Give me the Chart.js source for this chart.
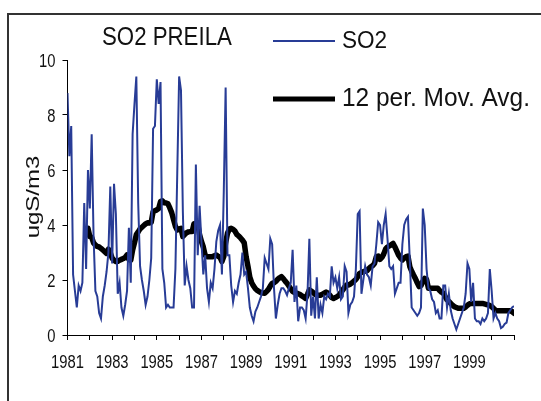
<!DOCTYPE html>
<html>
<head>
<meta charset="utf-8">
<script src="https://cdn.jsdelivr.net/npm/chart.js@4.4.1/dist/chart.umd.min.js"></script>
<style>
  html, body { margin: 0; padding: 0; background: #fff; }
  #frame { position: absolute; left: 7px; top: 13px; width: 600px; height: 500px; border: 2px solid #333; }
  #wrap { position: absolute; left: 0; top: 0; width: 541px; height: 401px; }
</style>
</head>
<body>
<div id="frame"></div>
<div id="wrap"><canvas id="so2Chart" width="541" height="401"></canvas></div>
<script>
// monthly SO2 at Preila, ugS/m3, Jan 1981 .. Jan 2001 (one row per year)
const so2 = [
  8.8, 6.5, 7.6, 2.2, 1.6, 1.0, 1.8, 1.6, 1.9, 4.8, 2.4, 6.0,   // 1981
  4.6, 7.3, 3.6, 1.6, 1.4, 0.8, 0.6, 1.4, 1.8, 2.3, 3.0, 5.4,   // 1982
  2.6, 5.5, 4.4, 1.5, 1.9, 1.0, 0.7, 1.1, 1.6, 3.9, 1.9, 7.3,   // 1983
  8.4, 9.4, 4.8, 2.5, 2.0, 1.6, 1.1, 1.4, 2.0, 2.8, 7.5, 7.6,   // 1984
  9.3, 8.4, 9.2, 2.4, 1.9, 1.0, 1.1, 1.0, 1.0, 1.0, 2.4, 5.9,   // 1985
  9.4, 8.9, 4.5, 1.8, 2.5, 2.0, 1.7, 1.0, 1.0, 6.2, 2.9, 4.7,   // 1986
  3.4, 2.2, 2.9, 1.7, 1.2, 1.9, 1.7, 2.4, 3.4, 3.8, 4.0, 2.2,   // 1987
  5.2, 9.0, 2.9, 2.9, 1.8, 1.2, 1.6, 1.5, 1.9, 2.2, 3.0, 2.2,   // 1988
  2.3, 1.7, 1.0, 0.7, 0.5, 0.85, 1.0, 1.2, 1.4, 1.7, 2.8, 2.6,  // 1989
  2.4, 3.5, 3.3, 1.7, 0.6, 1.1, 1.5, 1.7, 1.7, 1.6, 1.45, 1.7,  // 1990
  1.9, 3.1, 1.2, 1.8, 0.5, 1.0, 1.0, 0.9, 0.6, 1.5, 3.5, 0.7,   // 1991
  1.4, 0.6, 2.1, 0.6, 1.1, 0.8, 1.4, 1.3, 1.5, 1.4, 2.5, 1.9,   // 1992
  2.1, 1.7, 2.1, 1.3, 1.4, 2.5, 2.3, 0.8, 1.1, 1.2, 1.4, 2.4,   // 1993
  4.4, 4.5, 1.5, 2.0, 2.5, 2.2, 2.1, 1.8, 2.5, 2.6, 3.3, 4.1,   // 1994
  4.0, 3.3, 4.0, 4.4, 3.5, 2.5, 2.4, 2.5, 1.5, 1.7, 1.9, 1.9,   // 1995
  3.3, 4.0, 4.2, 4.3, 2.7, 1.0, 0.9, 0.8, 0.7, 0.8, 1.0, 4.6,   // 1996
  4.0, 2.4, 1.7, 1.6, 1.3, 1.2, 0.8, 0.9, 0.6, 0.6, 1.8, 1.8,   // 1997
  1.0, 1.5, 0.9, 0.6, 0.4, 0.2, 0.4, 0.6, 0.8, 1.0, 1.5, 2.6,   // 1998
  2.4, 1.2, 1.9, 0.6, 0.5, 0.5, 0.4, 0.6, 0.5, 0.6, 0.8, 2.4,   // 1999
  1.6, 0.6, 0.8, 0.6, 0.5, 0.25, 0.3, 0.4, 0.45, 0.8, 0.9, 1.0, // 2000
  1.05                                                          // 2001
];

// 12 per. moving average as drawn, starting with Dec 1981
const movAvgStart = 11;
const movAvg = [
  3.88,                                                                  // 1981
  3.58, 3.55, 3.35, 3.27, 3.22, 3.20, 3.15, 3.09, 3.03, 2.97, 3.12, 3.00, // 1982
  2.79, 2.72, 2.67, 2.68, 2.72, 2.75, 2.78, 2.82, 2.91, 2.75, 2.72, 3.09, // 1983
  3.35, 3.65, 3.75, 3.86, 3.92, 3.98, 4.04, 4.08, 4.07, 4.10, 4.48, 4.52, // 1984
  4.55, 4.60, 4.85, 4.88, 4.81, 4.80, 4.77, 4.62, 4.45, 4.20, 3.95, 3.82, // 1985
  3.86, 3.88, 3.58, 3.66, 3.72, 3.75, 3.76, 3.76, 4.05, 4.06, 4.04, 3.65, // 1986
  3.40, 3.20, 2.90, 2.85, 2.85, 2.85, 2.85, 2.88, 2.91, 2.86, 2.82, 2.67, // 1987
  2.85, 3.35, 3.70, 3.85, 3.88, 3.84, 3.78, 3.66, 3.60, 3.53, 3.45, 3.35, // 1988
  2.85, 2.50, 2.10, 1.90, 1.78, 1.68, 1.62, 1.58, 1.54, 1.53, 1.52, 1.58, // 1989
  1.66, 1.78, 1.88, 1.90, 1.95, 2.03, 2.08, 2.12, 2.05, 1.96, 1.88, 1.78, // 1990
  1.68, 1.58, 1.55, 1.52, 1.50, 1.47, 1.42, 1.38, 1.33, 1.48, 1.64, 1.60, // 1991
  1.55, 1.48, 1.45, 1.45, 1.45, 1.48, 1.52, 1.56, 1.52, 1.45, 1.36, 1.33, // 1992
  1.36, 1.40, 1.45, 1.55, 1.64, 1.74, 1.82, 1.82, 1.85, 1.90, 1.96, 2.02, // 1993
  2.12, 2.24, 2.27, 2.30, 2.32, 2.34, 2.42, 2.48, 2.52, 2.60, 2.85, 2.87, // 1994
  2.75, 2.82, 2.95, 3.13, 3.20, 3.24, 3.28, 3.33, 3.20, 3.05, 2.90, 2.80, // 1995
  2.73, 2.80, 2.85, 2.87, 2.48, 2.32, 2.18, 2.05, 1.90, 1.76, 1.80, 1.95, // 1996
  2.06, 2.02, 1.70, 1.70, 1.70, 1.70, 1.70, 1.70, 1.62, 1.56, 1.52, 1.40, // 1997
  1.28, 1.22, 1.15, 1.08, 1.03, 1.00, 0.97, 0.97, 0.97, 0.97, 1.02, 1.08, // 1998
  1.13, 1.15, 1.15, 1.15, 1.15, 1.15, 1.15, 1.15, 1.13, 1.11, 1.10, 1.07, // 1999
  1.03, 0.97, 0.90, 0.88, 0.88, 0.88, 0.88, 0.88, 0.88, 0.88, 0.88, 0.85, // 2000
  0.79                                                                   // 2001
];

const firstYear = 1981;
const yTicks = [0, 2, 4, 6, 8, 10];
const titleText = "SO2 PREILA";
const seriesName = "SO2";
const avgName = "12 per. Mov. Avg.";
const yTitle = "ugS/m3";

const blue = "#283c96";
const textFont = '"Liberation Sans", Arial, sans-serif';

// squeezed text, the original picture is narrower than its fonts
function drawText(ctx, txt, x, y, size, sx, align, rot) {
  ctx.save();
  ctx.translate(x, y);
  ctx.scale(sx, 1);
  if (rot) ctx.rotate(rot);
  ctx.font = size + "px " + textFont;
  ctx.fillStyle = "#111";
  ctx.textBaseline = "alphabetic";
  ctx.textAlign = align || "left";
  ctx.fillText(txt, 0, 0);
  ctx.restore();
}

const decorations = {
  id: "decorations",
  afterDraw(chart) {
    const ctx = chart.ctx;
    const xs = chart.scales.x, ys = chart.scales.y;

    // tick labels, placed with the chart's own scales
    for (let m = 0; m < 240; m += 24) {
      drawText(ctx, String(firstYear + m / 12), xs.getPixelForValue(m), 368, 18, 0.82, "center");
    }
    yTicks.forEach(v => {
      drawText(ctx, String(v), 55.5, ys.getPixelForValue(v) + 6.5, 18, 0.82, "right");
    });

    drawText(ctx, titleText, 102, 45, 25, 0.89);

    ctx.save();
    ctx.lineCap = "butt";
    ctx.strokeStyle = blue;
    ctx.lineWidth = 2;
    ctx.beginPath(); ctx.moveTo(273, 41); ctx.lineTo(335, 41); ctx.stroke();
    ctx.strokeStyle = "#000";
    ctx.lineWidth = 5;
    ctx.beginPath(); ctx.moveTo(273, 99); ctx.lineTo(335, 99); ctx.stroke();
    ctx.restore();

    drawText(ctx, seriesName, 342, 48, 24, 0.94);
    drawText(ctx, avgName, 342, 106, 26, 0.94);
    drawText(ctx, yTitle, 39, 197, 24, 0.8, "center", -Math.PI / 2);
  }
};

new Chart(document.getElementById("so2Chart"), {
  type: "line",
  data: {
    datasets: [
      {
        label: seriesName,
        data: so2.map((v, i) => ({ x: i, y: v })),
        borderColor: blue,
        borderWidth: 2,
        pointRadius: 0,
        tension: 0
      },
      {
        label: avgName,
        data: movAvg.map((v, i) => ({ x: i + movAvgStart, y: v })),
        borderColor: "#000",
        borderWidth: 5.5,
        borderJoinStyle: "round",
        borderCapStyle: "round",
        pointRadius: 0,
        tension: 0
      }
    ]
  },
  options: {
    responsive: false,
    animation: false,
    layout: { padding: { top: 60, right: 27, left: 0, bottom: 0 } },
    plugins: {
      legend: { display: false },
      tooltip: { enabled: false }
    },
    scales: {
      x: {
        type: "linear",
        min: 0,
        max: 240,
        afterFit: s => { s.height = 66; },
        afterBuildTicks: s => { s.ticks = Array.from({ length: 21 }, (_, k) => ({ value: k * 12 })); },
        grid: { drawOnChartArea: false, drawTicks: true, tickLength: 5, color: "#000" },
        border: { color: "#000", width: 1 },
        ticks: { autoSkip: false, maxRotation: 0, callback: () => "" }
      },
      y: {
        min: 0,
        max: 10,
        afterFit: s => { s.width = 67.5; },
        afterBuildTicks: s => { s.ticks = yTicks.map(v => ({ value: v })); },
        grid: { drawOnChartArea: false, drawTicks: true, tickLength: 5, color: "#000" },
        border: { color: "#000", width: 1 },
        ticks: { callback: () => "" }
      }
    }
  },
  plugins: [decorations]
});
</script>
</body>
</html>
